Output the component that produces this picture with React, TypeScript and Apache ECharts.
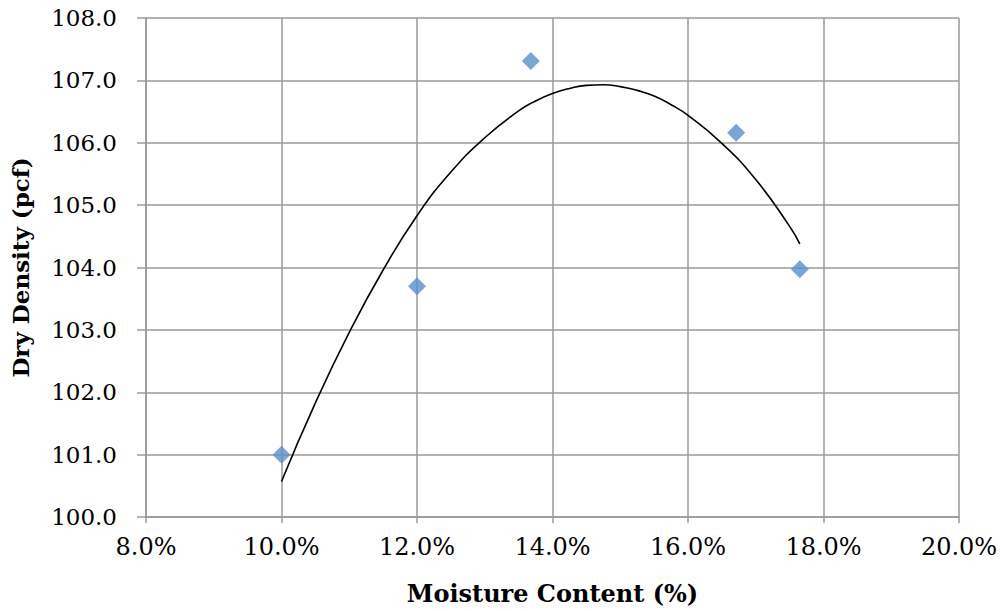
import React, { useEffect, useRef } from "react";
import * as echarts from "echarts";

// Measured points: moisture content (%) and dry density (pcf)
const moisture = [10.0, 12.0, 13.68, 16.71, 17.65];
const dryDensity = [101.0, 103.7, 107.31, 106.16, 103.97];

// Trendline (polynomial)
const trendX = [10.0, 10.5, 11.0, 11.5, 12.0, 12.5, 13.0, 13.5, 13.75, 14.0, 14.25, 14.5, 14.75, 15.0, 15.25, 15.5, 15.75, 16.0, 16.5, 17.0, 17.5, 17.65];
const trendY = [100.57, 101.83, 102.96, 103.96, 104.83, 105.53, 106.08, 106.51, 106.67, 106.79, 106.87, 106.92, 106.93, 106.9, 106.84, 106.75, 106.61, 106.44, 105.99, 105.41, 104.66, 104.38];

const xTitle = "Moisture Content (%)";
const yTitle = "Dry Density (pcf)";

export default function App() {
  const ref = useRef<HTMLDivElement>(null);
  useEffect(() => {
    if (!ref.current) return;
    const chart = echarts.init(ref.current, null, { renderer: "svg" });
    const grey = "#9a9a9a";
    const labelFont = "DejaVu Serif";
    chart.setOption({
      animation: false,
      backgroundColor: "#ffffff",
      grid: { left: 146, top: 18, right: 48, bottom: 94, containLabel: false, outerBoundsMode: "none" },
      xAxis: {
        type: "value",
        min: 8,
        max: 20,
        interval: 2,
        name: xTitle,
        nameLocation: "middle",
        nameGap: 64,
        nameTextStyle: { fontFamily: labelFont, fontWeight: "bold", fontSize: 24, color: "#000" },
        axisLine: { show: true, lineStyle: { color: grey, width: 1.5 } },
        axisTick: { show: true, inside: false, length: 6, lineStyle: { color: grey, width: 1.5 } },
        axisLabel: {
          fontFamily: labelFont,
          fontSize: 24,
          color: "#000",
          margin: 18,
          formatter: (v: number) => v.toFixed(1) + "%",
        },
        splitLine: { show: true, lineStyle: { color: grey, width: 1.5 } },
      },
      yAxis: {
        type: "value",
        min: 100,
        max: 108,
        interval: 1,
        name: yTitle,
        nameLocation: "middle",
        nameGap: 114,
        nameRotate: 90,
        nameTextStyle: { fontFamily: labelFont, fontWeight: "bold", fontSize: 23, color: "#000" },
        axisLine: { show: true, lineStyle: { color: grey, width: 1.5 } },
        axisTick: { show: true, inside: false, length: 9, lineStyle: { color: grey, width: 1.5 } },
        axisLabel: {
          fontFamily: labelFont,
          fontSize: 23,
          color: "#000",
          margin: 29,
          formatter: (v: number) => v.toFixed(1),
        },
        splitLine: { show: true, lineStyle: { color: grey, width: 1.5 } },
      },
      series: [
        {
          type: "line",
          data: trendX.map((x, i) => [x, trendY[i]]),
          smooth: true,
          showSymbol: false,
          lineStyle: { color: "#000", width: 1.6 },
          z: 2,
        },
        {
          type: "scatter",
          data: moisture.map((x, i) => [x, dryDensity[i]]),
          symbol: "diamond",
          symbolSize: 18,
          itemStyle: { color: "#5B8FCD" },
          z: 3,
        },
      ],
    });
    return () => chart.dispose();
  }, []);
  return (
    <div
      ref={ref}
      style={{ position: "absolute", left: 0, top: 0, width: 1007, height: 611, background: "#fff" }}
    />
  );
}
